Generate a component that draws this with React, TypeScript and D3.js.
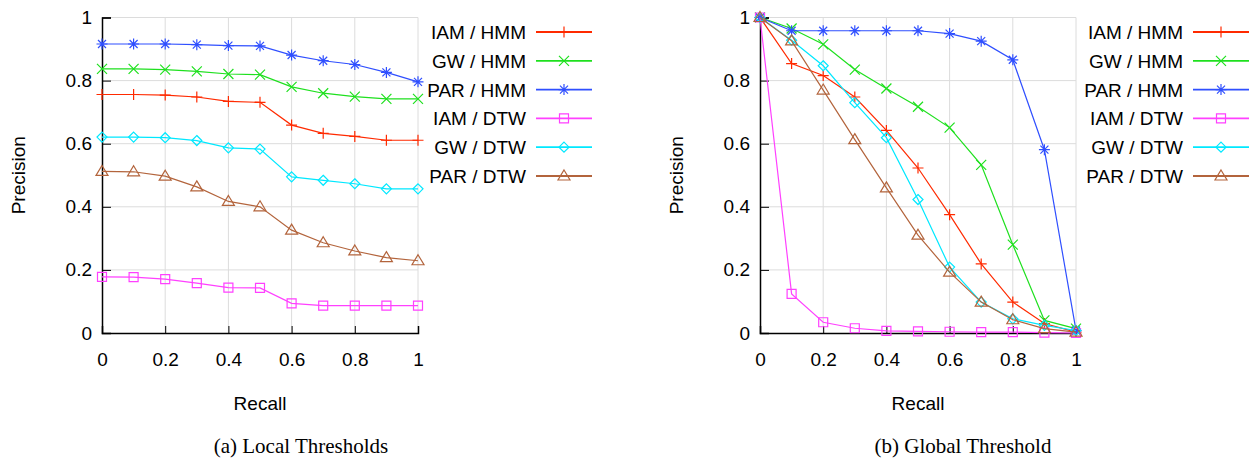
import React, { useEffect, useRef } from "react";
import * as d3 from "d3";

// recall levels (x) shared by every curve
const recall = [0, 0.1, 0.2, 0.3, 0.4, 0.5, 0.6, 0.7, 0.8, 0.9, 1];
const xTicks = [0, 0.2, 0.4, 0.6, 0.8, 1];
const yTicks = [0, 0.2, 0.4, 0.6, 0.8, 1];

const seriesNames = ["IAM / HMM", "GW / HMM", "PAR / HMM", "IAM / DTW", "GW / DTW", "PAR / DTW"];

// (a) local thresholds
const localIamHmm = [0.756, 0.756, 0.754, 0.748, 0.734, 0.731, 0.659, 0.633, 0.623, 0.611, 0.611];
const localGwHmm = [0.837, 0.837, 0.835, 0.829, 0.821, 0.819, 0.78, 0.76, 0.749, 0.742, 0.742];
const localParHmm = [0.916, 0.916, 0.916, 0.914, 0.911, 0.91, 0.881, 0.863, 0.851, 0.826, 0.796];
const localIamDtw = [0.178, 0.177, 0.171, 0.158, 0.144, 0.143, 0.094, 0.087, 0.087, 0.087, 0.087];
const localGwDtw = [0.621, 0.621, 0.619, 0.61, 0.587, 0.583, 0.495, 0.484, 0.473, 0.457, 0.457];
const localParDtw = [0.512, 0.511, 0.497, 0.463, 0.417, 0.4, 0.326, 0.286, 0.26, 0.239, 0.229];

// (b) global threshold
const globalIamHmm = [1, 0.854, 0.816, 0.748, 0.642, 0.523, 0.375, 0.219, 0.098, 0.03, 0.003];
const globalGwHmm = [1, 0.965, 0.915, 0.835, 0.775, 0.717, 0.651, 0.533, 0.28, 0.04, 0.014];
const globalParHmm = [1, 0.958, 0.958, 0.958, 0.958, 0.958, 0.949, 0.925, 0.866, 0.581, 0.008];
const globalIamDtw = [1, 0.124, 0.034, 0.015, 0.007, 0.005, 0.004, 0.003, 0.003, 0.001, 0];
const globalGwDtw = [1, 0.928, 0.847, 0.73, 0.619, 0.423, 0.209, 0.098, 0.045, 0.024, 0.008];
const globalParDtw = [1, 0.926, 0.77, 0.613, 0.46, 0.31, 0.193, 0.098, 0.042, 0.014, 0.003];

const colors = ["#ff2a00", "#1ee01e", "#2f4fff", "#ff40ff", "#00e8ff", "#b3643c"];
const markers = ["plus", "cross", "star", "square", "diamond", "triangle"];

const markerPath = (type: string) => {
  const p = d3.path();
  if (type === "plus") {
    p.moveTo(-5.5, 0); p.lineTo(5.5, 0); p.moveTo(0, -5.5); p.lineTo(0, 5.5);
  } else if (type === "cross") {
    p.moveTo(-5, -5); p.lineTo(5, 5); p.moveTo(-5, 5); p.lineTo(5, -5);
  } else if (type === "star") {
    p.moveTo(-5.5, 0); p.lineTo(5.5, 0); p.moveTo(0, -5.5); p.lineTo(0, 5.5);
    p.moveTo(-4, -4); p.lineTo(4, 4); p.moveTo(-4, 4); p.lineTo(4, -4);
  } else if (type === "square") {
    p.rect(-4.5, -4.5, 9, 9);
  } else if (type === "diamond") {
    p.moveTo(0, -5); p.lineTo(5, 0); p.lineTo(0, 5); p.lineTo(-5, 0); p.closePath();
  } else {
    p.moveTo(0, -6); p.lineTo(6, 4); p.lineTo(-6, 4); p.closePath();
  }
  return p.toString();
};

const panels = [
  { left: 102, right: 418, legendEnd: 526, caption: "(a) Local Thresholds", captionX: 301, labelX: 18,
    series: [localIamHmm, localGwHmm, localParHmm, localIamDtw, localGwDtw, localParDtw] },
  { left: 760, right: 1076, legendEnd: 1183, caption: "(b) Global Threshold", captionX: 963, labelX: 676,
    series: [globalIamHmm, globalGwHmm, globalParHmm, globalIamDtw, globalGwDtw, globalParDtw] },
];

export default function App() {
  const svgRef = useRef<SVGSVGElement>(null);

  useEffect(() => {
    const svg = d3.select(svgRef.current);
    svg.selectAll("*").remove();
    const top = 17.5, bottom = 333;
    const font = "'Liberation Sans', Arial, sans-serif";

    panels.forEach((pn) => {
      const x = d3.scaleLinear().domain([0, 1]).range([pn.left, pn.right]);
      const y = d3.scaleLinear().domain([0, 1]).range([bottom, top]);
      const g = svg.append("g");

      // grid
      g.selectAll(".vgrid").data(xTicks.filter((t) => t > 0)).join("line")
        .attr("x1", (d) => x(d)).attr("x2", (d) => x(d))
        .attr("y1", top).attr("y2", bottom)
        .attr("stroke", "#dcdcdc").attr("stroke-width", 1);
      g.selectAll(".hgrid").data(yTicks.filter((t) => t > 0)).join("line")
        .attr("x1", pn.left).attr("x2", pn.right)
        .attr("y1", (d) => y(d)).attr("y2", (d) => y(d))
        .attr("stroke", "#dcdcdc").attr("stroke-width", 1);

      // axes
      const ax = g.append("g").attr("transform", `translate(0,${bottom})`)
        .call(d3.axisBottom(x).tickValues(xTicks).tickSize(-7).tickPadding(20).tickFormat(d3.format("~g")));
      const ay = g.append("g").attr("transform", `translate(${pn.left},0)`)
        .call(d3.axisLeft(y).tickValues(yTicks).tickSize(-9).tickPadding(19).tickFormat(d3.format("~g")));
      [ax, ay].forEach((a) => {
        a.select(".domain").attr("stroke", "#000").attr("stroke-width", 1.5);
        a.selectAll(".tick line").attr("stroke", "#000").attr("stroke-width", 1);
        a.selectAll(".tick text").attr("font-family", font).attr("font-size", 19).attr("fill", "#000");
      });
      ay.selectAll(".tick text").attr("x", -10);
      ax.selectAll(".tick text").attr("y", 20);

      // labels
      g.append("text").text("Recall").attr("x", (pn.left + pn.right) / 2).attr("y", 410)
        .attr("text-anchor", "middle").attr("font-family", font).attr("font-size", 19);
      g.append("text").text("Precision")
        .attr("transform", `translate(${pn.labelX + 7},${(top + bottom) / 2}) rotate(-90)`)
        .attr("text-anchor", "middle").attr("font-family", font).attr("font-size", 19);
      g.append("text").text(pn.caption).attr("x", pn.captionX).attr("y", 453)
        .attr("text-anchor", "middle").attr("font-family", "'Liberation Serif', 'Times New Roman', serif")
        .attr("font-size", 21);

      // series
      const line = d3.line<number>().x((_, i) => x(recall[i])).y((d) => y(d));
      pn.series.forEach((vals, si) => {
        g.append("path").attr("d", line(vals)).attr("fill", "none")
          .attr("stroke", colors[si]).attr("stroke-width", 1.2);
        g.selectAll(`.m${si}`).data(vals).join("path")
          .attr("transform", (d, i) => `translate(${x(recall[i])},${y(d)})`)
          .attr("d", markerPath(markers[si])).attr("fill", "none")
          .attr("stroke", colors[si]).attr("stroke-width", 1.2);
      });

      // legend
      seriesNames.forEach((name, si) => {
        const ly = 32 + si * 28.8;
        const lg = g.append("g");
        lg.append("text").text(name).attr("x", pn.legendEnd).attr("y", ly + 7)
          .attr("text-anchor", "end").attr("font-family", font).attr("font-size", 19);
        lg.append("line").attr("x1", pn.legendEnd + 10).attr("x2", pn.legendEnd + 66)
          .attr("y1", ly).attr("y2", ly).attr("stroke", colors[si]).attr("stroke-width", 1.8);
        lg.append("path").attr("transform", `translate(${pn.legendEnd + 38},${ly})`)
          .attr("d", markerPath(markers[si])).attr("fill", "none")
          .attr("stroke", colors[si]).attr("stroke-width", 1.2);
      });
    });
  }, []);

  return (
    <svg ref={svgRef} width={1252} height={459}
      style={{ position: "absolute", left: 0, top: 0, background: "#fff" }} />
  );
}
